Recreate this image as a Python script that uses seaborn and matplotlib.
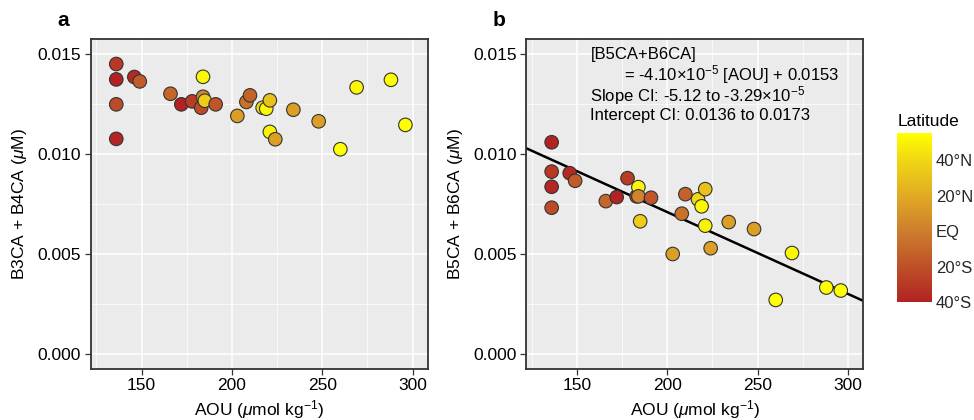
import numpy as np
import seaborn as sns
import matplotlib.pyplot as plt
from matplotlib.colors import LinearSegmentedColormap, Normalize
from matplotlib.cm import ScalarMappable
from matplotlib.ticker import MultipleLocator, FormatStrFormatter

# AOU (umol/kg) for each sample, shared by both panels
aou = [136, 136, 136, 136, 146, 149, 166, 172, 178, 183, 184, 184, 185, 191,
       203, 208, 210, 217, 219, 221, 221, 224, 234, 248, 260, 269, 288, 296]
# sample latitude (negative = south)
latitude = [-30, -40, -22, -38, -37, -15, -10, -40, -28, -22, 52, 3, 35, -18,
            15, -5, -12, 40, 52, 30, 50, 15, 15, 15, 55, 52, 54, 55]
# B3CA + B4CA (uM)
b34 = [0.01452, 0.01375, 0.01250, 0.01077, 0.01387, 0.01365, 0.01303, 0.01250,
       0.01265, 0.01233, 0.01388, 0.01288, 0.01268, 0.01250, 0.01192, 0.01262,
       0.01295, 0.01233, 0.01228, 0.01270, 0.01112, 0.01075, 0.01223, 0.01165,
       0.01025, 0.01335, 0.01373, 0.01147]
# B5CA + B6CA (uM)
b56 = [0.00913, 0.01060, 0.00732, 0.00837, 0.00905, 0.00867, 0.00765, 0.00785,
       0.00880, 0.00789, 0.00835, 0.00789, 0.00664, 0.00782, 0.00500, 0.00702,
       0.00800, 0.00774, 0.00739, 0.00825, 0.00642, 0.00529, 0.00660, 0.00625,
       0.00270, 0.00505, 0.00332, 0.00317]

# fitted line for panel b
slope = -4.10e-5
intercept = 0.0153

lat_ticks = [-40, -20, 0, 20, 40]
lat_labels = ['40°S', '20°S', 'EQ', '20°N', '40°N']
lat_range = (-40, 55)

sns.set_style('darkgrid', rc={'axes.facecolor': '#EBEBEB', 'grid.color': 'white'})
plt.rcParams['font.family'] = ['Liberation Sans', 'DejaVu Sans']
plt.rcParams['text.color'] = 'black'
plt.rcParams['axes.labelcolor'] = 'black'
plt.rcParams['mathtext.fontset'] = 'custom'
plt.rcParams['mathtext.rm'] = 'Liberation Sans'
plt.rcParams['mathtext.it'] = 'Liberation Sans:italic'

cmap = LinearSegmentedColormap.from_list(
    'lat', [(0.0, '#B22222'), (0.21, '#BE5028'), (0.42, '#CD7D2D'),
            (0.63, '#E1AA23'), (0.84, '#F0D714'), (1.0, '#FFFF00')])
norm = Normalize(*lat_range)

fig = plt.figure(figsize=(9.74, 4.2), dpi=100)
ax_a = fig.add_axes([0.0934, 0.122, 0.346, 0.784])
ax_b = fig.add_axes([0.5404, 0.122, 0.346, 0.784])
cax = fig.add_axes([0.9213, 0.2802, 0.0353, 0.4024])

xlabel = r'AOU ($\mu$mol kg$^{-1}$)'
panels = [(ax_a, b34, r'B3CA + B4CA ($\mu$M)', 'a'),
          (ax_b, b56, r'B5CA + B6CA ($\mu$M)', 'b')]

for ax, yvals, ylabel, tag in panels:
    sns.scatterplot(x=aou, y=yvals, hue=latitude, palette=cmap, hue_norm=norm,
                    legend=False, s=95, edgecolor='#333333', linewidth=0.8,
                    ax=ax, zorder=3)
    ax.set_xlim(122, 308.5)
    ax.set_ylim(-0.00075, 0.01575)
    ax.xaxis.set_major_locator(MultipleLocator(50))
    ax.xaxis.set_minor_locator(MultipleLocator(25))
    ax.yaxis.set_major_locator(MultipleLocator(0.005))
    ax.yaxis.set_minor_locator(MultipleLocator(0.0025))
    ax.yaxis.set_major_formatter(FormatStrFormatter('%.3f'))
    ax.grid(which='major', color='white', linewidth=1.1)
    ax.grid(which='minor', color='white', linewidth=0.5)
    ax.tick_params(which='major', direction='out', length=4, width=0.9,
                   color='#333333', labelsize=12.5, labelcolor='black',
                   bottom=True, left=True, pad=3)
    ax.tick_params(which='minor', length=0)
    for sp in ax.spines.values():
        sp.set_visible(True)
        sp.set_color('#333333')
        sp.set_linewidth(1.3)
    ax.set_xlabel(xlabel, fontsize=12.5, labelpad=3)
    ax.set_ylabel(ylabel, fontsize=12.5, labelpad=6)
    ax.text(-0.1, 1.059, tag, transform=ax.transAxes, fontsize=15,
            fontweight='bold', va='center', ha='left')

ax_b.axline((0, intercept), slope=slope, color='black', linewidth=1.8, zorder=2)

ax_b.text(0.19, 0.955, '[B5CA+B6CA]', transform=ax_b.transAxes, fontsize=12, va='center')
ax_b.text(0.29, 0.893, r'= -4.10×10$^{-5}$ [AOU] + 0.0153', transform=ax_b.transAxes,
          fontsize=12, va='center')
ax_b.text(0.19, 0.831, r'Slope CI: -5.12 to -3.29×10$^{-5}$', transform=ax_b.transAxes,
          fontsize=12, va='center')
ax_b.text(0.19, 0.769, 'Intercept CI: 0.0136 to 0.0173', transform=ax_b.transAxes,
          fontsize=12, va='center')

sm = ScalarMappable(norm=norm, cmap=cmap)
cbar = fig.colorbar(sm, cax=cax, ticks=lat_ticks)
cbar.ax.set_yticklabels(lat_labels)
cbar.outline.set_visible(False)
cbar.ax.tick_params(direction='in', color='white', length=6, width=0.8,
                    left=True, right=True, labelsize=12, pad=3)
cbar.ax.grid(False)
cax.text(0.0, 1.071, 'Latitude', transform=cax.transAxes, fontsize=12.5,
         ha='left', va='center')

fig.savefig('out.png', dpi=100)
